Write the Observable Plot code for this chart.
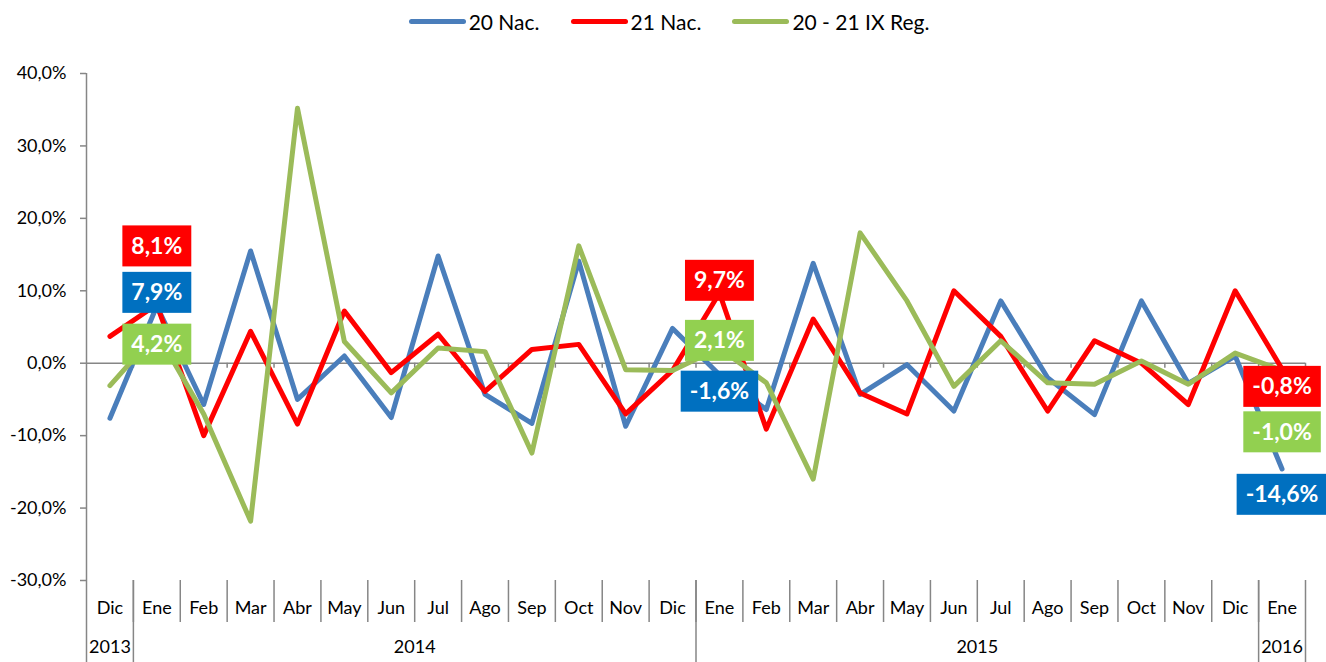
<!DOCTYPE html>
<html>
<head>
<meta charset="utf-8">
<script src="https://cdn.jsdelivr.net/npm/d3@7"></script>
<script src="https://cdn.jsdelivr.net/npm/@observablehq/plot@0.6"></script>
<style>
  html, body { margin: 0; padding: 0; background: #fff; }
  body { width: 1326px; height: 662px; overflow: hidden; font-family: Lato, "Open Sans", sans-serif; }
  #legend { height: 42px; display: flex; justify-content: center; align-items: center; gap: 31px; padding-left: 12px; font-size: 21px; color: #000; }
  #legend .item { display: flex; align-items: center; gap: 3px; }
  #legend .sw { display: inline-block; width: 57px; height: 5px; border-radius: 3px; }
  #chart svg { display: block; }
</style>
</head>
<body>
<div id="legend"></div>
<div id="chart"></div>
<script>
// ---- data ----
const months = ["Dic","Ene","Feb","Mar","Abr","May","Jun","Jul","Ago","Sep","Oct","Nov","Dic",
                "Ene","Feb","Mar","Abr","May","Jun","Jul","Ago","Sep","Oct","Nov","Dic","Ene"];
const years = ["2013", "2014", "2015", "2016"];
const yearFirst = [0, 1, 13, 25];
const yearLast = [0, 12, 24, 25];
const seriesNames = ["20 Nac.", "21 Nac.", "20 - 21 IX Reg."];
const nac20 = [-7.6, 7.9, -5.7, 15.5, -5.0, 1.0, -7.5, 14.8, -4.3, -8.3, 14.1, -8.7, 4.8,
               -1.6, -6.4, 13.8, -4.3, -0.2, -6.6, 8.6, -2.0, -7.1, 8.6, -2.8, 1.0, -14.6];
const nac21 = [3.7, 8.1, -10.0, 4.4, -8.4, 7.2, -1.3, 4.0, -3.9, 1.9, 2.6, -7.0, -1.0,
               9.7, -9.1, 6.1, -4.1, -7.0, 10.0, 3.7, -6.6, 3.1, 0.0, -5.7, 10.0, -0.8];
const reg = [-3.1, 4.2, -7.0, -21.8, 35.2, 3.0, -4.1, 2.1, 1.6, -12.4, 16.2, -0.9, -1.0,
             2.1, -2.7, -16.0, 18.0, 8.6, -3.2, 3.1, -2.7, -2.9, 0.3, -2.9, 1.4, -1.0];
const labelledMonths = [1, 13, 25];
const yTicks = [-30, -20, -10, 0, 10, 20, 30, 40];

// ---- styles / layout ----
const lineColors = ["#4A7EBB", "#FF0000", "#9BBB59"];
const boxColors = ["#0070C0", "#FF0000", "#92D050"];
const axisGray = "#868686";
// pixel offsets of the data-label boxes [series][labelled month]
const labelDy = [
  [-13, 17, 26],
  [-58, -12, 18],
  [12, -7, 62]
];

const values = [nac20, nac21, reg];
const rows = [];
values.forEach((arr, s) => arr.forEach((v, i) => rows.push({i, v, s: seriesNames[s]})));
const fmt = v => v.toFixed(1).replace(".", ",") + "%";

const idx = months.map((_, i) => i);
const bounds = d3.range(0.5, months.length - 1, 1);
const yearBounds = [0.5, 12.5, 24.5, 25.5];
const yearData = years.map((y, k) => ({year: y, mid: (yearFirst[k] + yearLast[k]) / 2}));

// legend
const legend = document.getElementById("legend");
seriesNames.forEach((n, s) => {
  const it = document.createElement("div");
  it.className = "item";
  it.innerHTML = `<span class="sw" style="background:${lineColors[s]}"></span><span>${n}</span>`;
  legend.append(it);
});

// label marks
const labelMarks = [];
const labelFill = new Map();
[1, 0, 2].forEach(s => {
  labelledMonths.forEach((m, k) => {
    labelMarks.push(Plot.text([{i: m, v: values[s][m]}], {
      x: "i", y: "v", text: d => fmt(d.v), dy: labelDy[s][k],
      fill: "white", fontWeight: "bold", fontSize: 23
    }));
    labelFill.set(fmt(values[s][m]), boxColors[s]);
  });
});

const plot = Plot.plot({
  width: 1326,
  height: 620,
  marginTop: 31,
  marginBottom: 82,
  marginLeft: 86,
  marginRight: 21,
  style: {fontFamily: "Lato, 'Open Sans', sans-serif", color: "#000", background: "#fff", overflow: "visible"},
  x: {type: "linear", domain: [-0.5, months.length - 0.5]},
  y: {domain: [-30, 40]},
  color: {domain: seriesNames, range: lineColors},
  marks: [
    Plot.ruleY([0], {stroke: axisGray, strokeWidth: 1.5}),
    Plot.ruleX(bounds.concat([months.length - 0.5]), {x: d => d, y1: 0, y2: 0, insetBottom: -5, stroke: axisGray, strokeWidth: 1.5}),
    Plot.ruleX([-0.5], {stroke: axisGray, strokeWidth: 1.5}),
    Plot.axisY({ticks: yTicks, tickSize: 6, tickPadding: 14, tickFormat: fmt, fontSize: 18, stroke: axisGray, strokeWidth: 1.5, label: null}),
    Plot.axisX({ticks: bounds, tickSize: 42, tickFormat: () => "", stroke: axisGray, strokeWidth: 1.5, label: null}),
    Plot.axisX({ticks: [-0.5].concat(yearBounds), tickSize: 82, tickFormat: () => "", stroke: axisGray, strokeWidth: 1.5, label: null}),
    Plot.axisX({ticks: idx, tickSize: 0, tickPadding: 21, tickFormat: i => months[i], fontSize: 18, label: null}),
    Plot.text(yearData, {x: "mid", frameAnchor: "bottom", dy: 72, text: "year", fontSize: 18, fill: "#000"}),
    Plot.line(rows, {x: "i", y: "v", z: "s", stroke: "s", strokeWidth: 5, strokeLinejoin: "round", strokeLinecap: "round"}),
    ...labelMarks
  ]
});
document.getElementById("chart").append(plot);

// draw label boxes behind label texts
plot.querySelectorAll("text").forEach(t => {
  const fill = labelFill.get(t.textContent);
  if (!fill) return;
  const b = t.getBBox();
  const h = 41, w = b.width + 18;
  const cx = b.x + b.width / 2, cy = b.y + b.height / 2;
  const r = document.createElementNS("http://www.w3.org/2000/svg", "rect");
  r.setAttribute("x", cx - w / 2);
  r.setAttribute("y", cy - h / 2 + 1);
  r.setAttribute("width", w);
  r.setAttribute("height", h);
  r.setAttribute("fill", fill);
  const tr = t.getAttribute("transform");
  if (tr) r.setAttribute("transform", tr);
  t.parentNode.insertBefore(r, t);
});
</script>
</body>
</html>
